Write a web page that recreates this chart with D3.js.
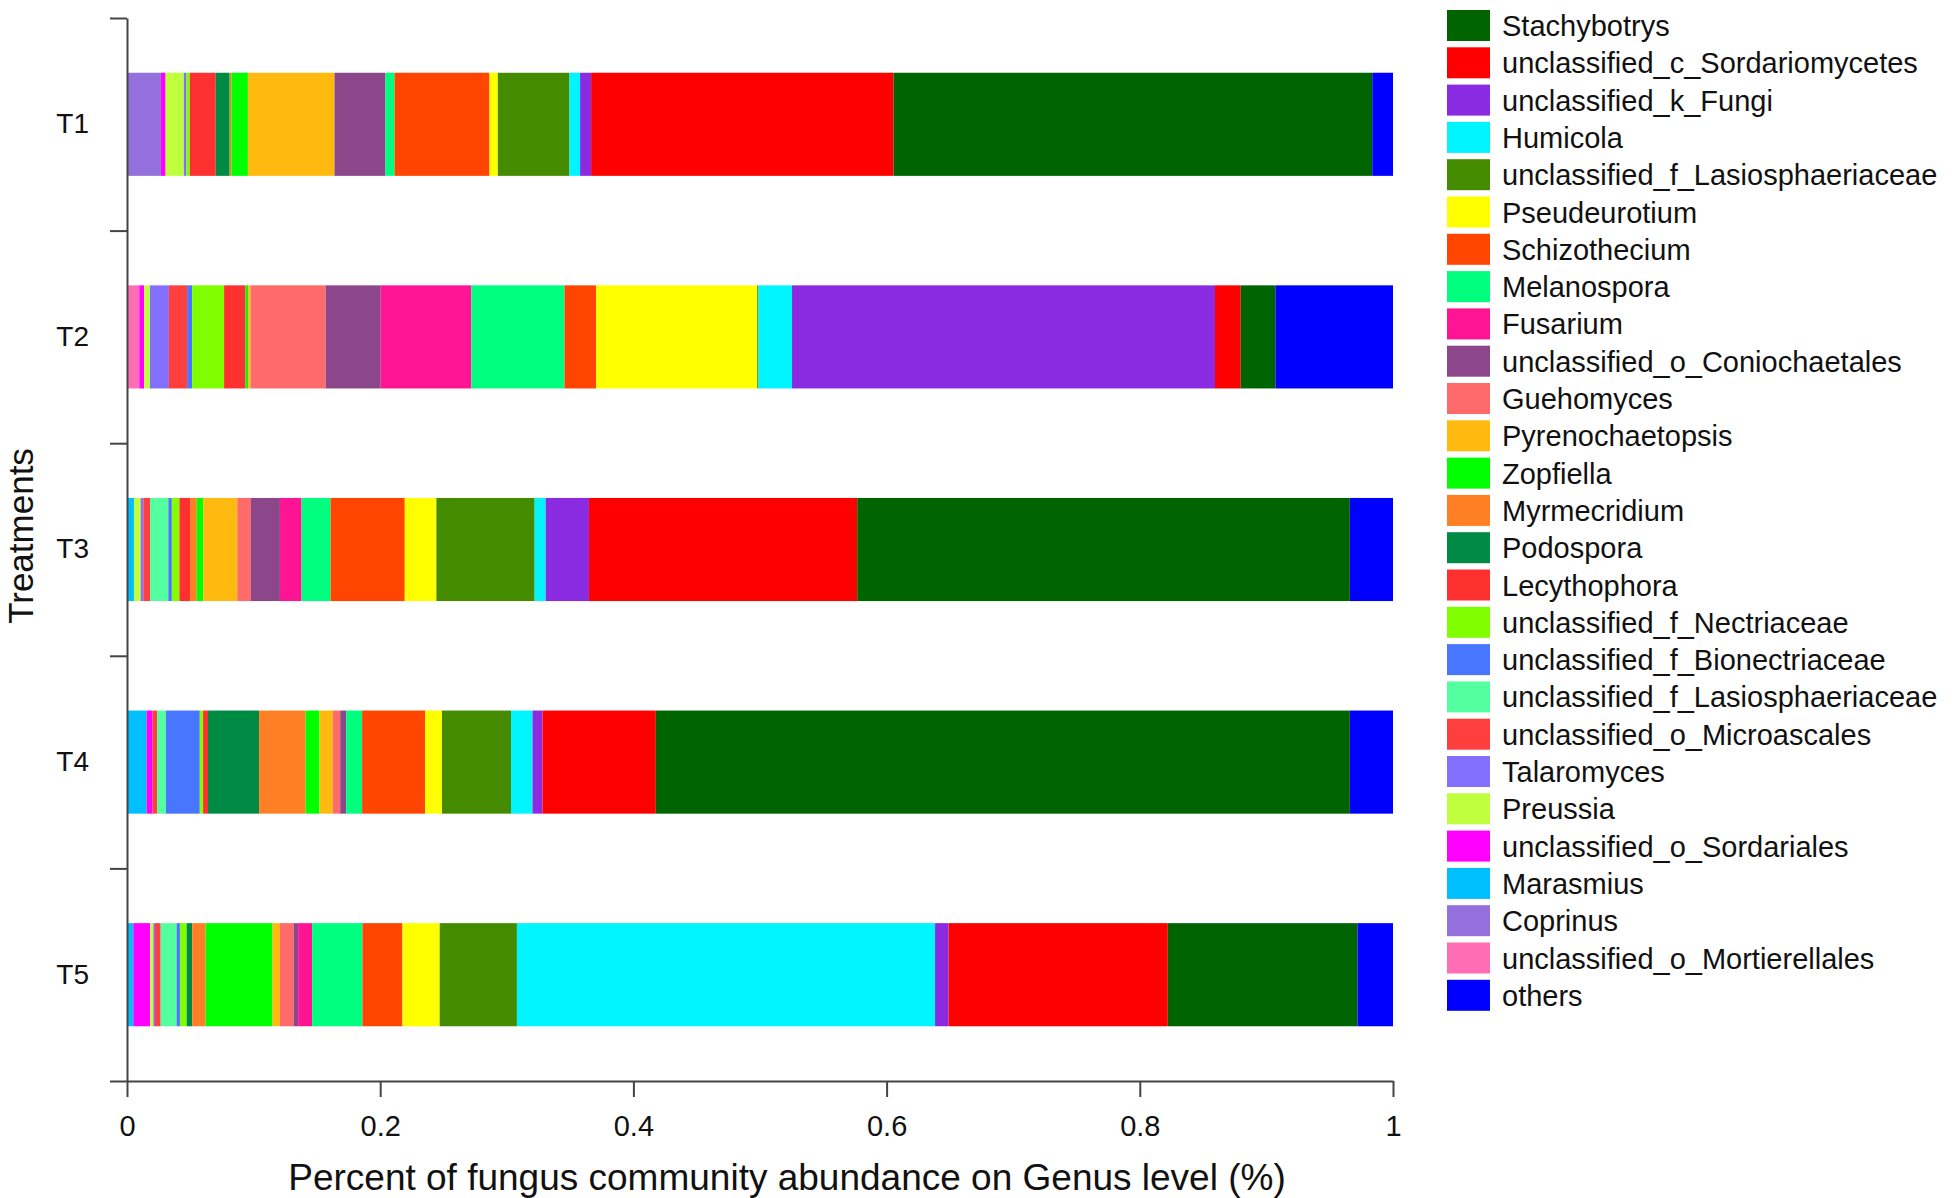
<html>
<head>
<style>
  body { margin: 0; background: #fff; }
  text { font-family: "Liberation Sans", Arial, sans-serif; fill: #111; }
  .axis path, .axis line { stroke: #444; stroke-width: 2; }
</style>
</head>
<body>
<svg id="chart" width="1955" height="1198"></svg>
<script src="https://cdn.jsdelivr.net/npm/d3@7"></script>
<script>
// legend order (top to bottom)
const genera = [
  "Stachybotrys", "unclassified_c_Sordariomycetes", "unclassified_k_Fungi", "Humicola",
  "unclassified_f_Lasiosphaeriaceae", "Pseudeurotium", "Schizothecium", "Melanospora",
  "Fusarium", "unclassified_o_Coniochaetales", "Guehomyces", "Pyrenochaetopsis",
  "Zopfiella", "Myrmecridium", "Podospora", "Lecythophora", "unclassified_f_Nectriaceae",
  "unclassified_f_Bionectriaceae", "unclassified_f_Lasiosphaeriaceae", "unclassified_o_Microascales",
  "Talaromyces", "Preussia", "unclassified_o_Sordariales", "Marasmius", "Coprinus",
  "unclassified_o_Mortierellales", "others"
]

const colors = [
  "#006400", "#FF0000", "#8A2BE2", "#00F5FF", "#458B00", "#FFFF00", "#FF4500", "#00FF7F",
  "#FF1493", "#8B4789", "#FF6A6A", "#FFB90F", "#00FF00", "#FF7F24", "#008B45", "#FF3030",
  "#7FFF00", "#4876FF", "#54FF9F", "#FF3E3E", "#8470FF", "#C0FF3E", "#FF00FF", "#00BFFF",
  "#9370DB", "#FF6EB4", "#0000FF"
]

const treatments = ["T1", "T2", "T3", "T4", "T5"]

// relative abundance per treatment, same order as genera
const t1 = [0.3781, 0.2389, 0.0087, 0.0084, 0.0566, 0.0066, 0.0750, 0.0071, 0, 0.0403, 0, 0.0684, 0.0131, 0.0013,
            0.0110, 0.0205, 0.0026, 0, 0, 0, 0.0021, 0.0144, 0.0037, 0, 0.0268, 0, 0.0164]
const t2 = [0.0274, 0.0203, 0.3341, 0.0265, 0.0010, 0.1272, 0.0250, 0.0736, 0.0716, 0.0434, 0.0594, 0.0019, 0.0021, 0,
            0, 0.0169, 0.0253, 0.0039, 0, 0.0144, 0.0150, 0.0045, 0.0039, 0, 0, 0.0097, 0.0929]
const t3 = [0.3891, 0.2119, 0.0342, 0.0087, 0.0776, 0.0250, 0.0586, 0.0229, 0.0171, 0.0229, 0.0108, 0.0268, 0.0052, 0.0053,
            0, 0.0084, 0.0060, 0.0027, 0.0145, 0.0053, 0.0021, 0.0053, 0, 0.0055, 0, 0, 0.0341]
const t4 = [0.5482, 0.0895, 0.0079, 0.0170, 0.0545, 0.0134, 0.0497, 0.0126, 0, 0.0047, 0.0058, 0.0105, 0.0110, 0.0368,
            0.0403, 0.0039, 0.0026, 0.0268, 0.0069, 0.0036, 0, 0, 0.0047, 0.0155, 0, 0, 0.0341]
const t5 = [0.1498, 0.1732, 0.0106, 0.3303, 0.0610, 0.0294, 0.0316, 0.0398, 0.0110, 0.0034, 0.0110, 0.0058, 0.0529, 0.0106,
            0.0044, 0, 0.0053, 0.0026, 0.0126, 0.0045, 0.0013, 0.0026, 0.0132, 0.0050, 0, 0, 0.0281]

const xTicks = [0, 0.2, 0.4, 0.6, 0.8, 1]

const svg = d3.select("#chart")

const rows = [t1, t2, t3, t4, t5].map((vals, i) => {
  let r = { name: treatments[i] }
  vals.forEach((v, j) => r[j] = v)
  return r
})

// bars stack from the bottom of the legend upwards, "others" last
let keys = d3.range(genera.length - 1).reverse()
keys.push(genera.length - 1)

const series = d3.stack().keys(keys)(rows)

const x = d3.scaleLinear().domain([0, 1]).range([127, 1393])
const y = d3.scaleBand().domain(treatments).range([18, 1081]).paddingInner(0.515).paddingOuter(0.2575)
const yEdge = d3.scaleLinear().domain([0, 5]).range([18, 1081])

svg.append("g")
  .selectAll("g")
  .data(series)
  .join("g")
  .attr("fill", d => colors[d.key])
  .selectAll("rect")
  .data(d => d)
  .join("rect")
  .attr("x", d => x(d[0]))
  .attr("width", d => x(d[1]) - x(d[0]))
  .attr("y", d => y(d.data.name))
  .attr("height", y.bandwidth())

// y axis: ticks at band edges, labels at band centres
svg.append("g")
  .attr("class", "axis")
  .attr("transform", "translate(127,0)")
  .call(d3.axisLeft(yEdge).ticks(5).tickSize(17).tickSizeOuter(0).tickFormat(""))

let yLab = svg.append("g")
  .attr("transform", "translate(127,0)")
  .call(d3.axisLeft(y).tickSize(0).tickPadding(38))
yLab.select(".domain").remove()
yLab.selectAll("text").attr("font-size", 28).attr("font-family", "Liberation Sans, Arial")

// x axis
let xAxis = svg.append("g")
  .attr("class", "axis")
  .attr("transform", "translate(0,1081)")
  .call(d3.axisBottom(x).tickValues(xTicks).tickSize(16).tickSizeOuter(0).tickPadding(18).tickFormat(d => String(d)))
xAxis.selectAll("text").attr("font-size", 29).attr("font-family", "Liberation Sans, Arial")

svg.append("text")
  .attr("x", 787)
  .attr("y", 1190)
  .attr("text-anchor", "middle")
  .attr("font-size", 37)
  .text("Percent of fungus community abundance on Genus level (%)")

svg.append("text")
  .attr("transform", "translate(33,536) rotate(-90)")
  .attr("text-anchor", "middle")
  .attr("font-size", 35)
  .text("Treatments")

// legend
let legend = svg.append("g")
  .selectAll("g")
  .data(genera)
  .join("g")
  .attr("transform", (d, i) => `translate(1447,${10 + i * 37.3})`)

legend.append("rect")
  .attr("width", 43)
  .attr("height", 31)
  .attr("fill", (d, i) => colors[i])

legend.append("text")
  .attr("x", 55)
  .attr("y", 26)
  .attr("font-size", 29)
  .text(d => d)
</script>
</body>
</html>
